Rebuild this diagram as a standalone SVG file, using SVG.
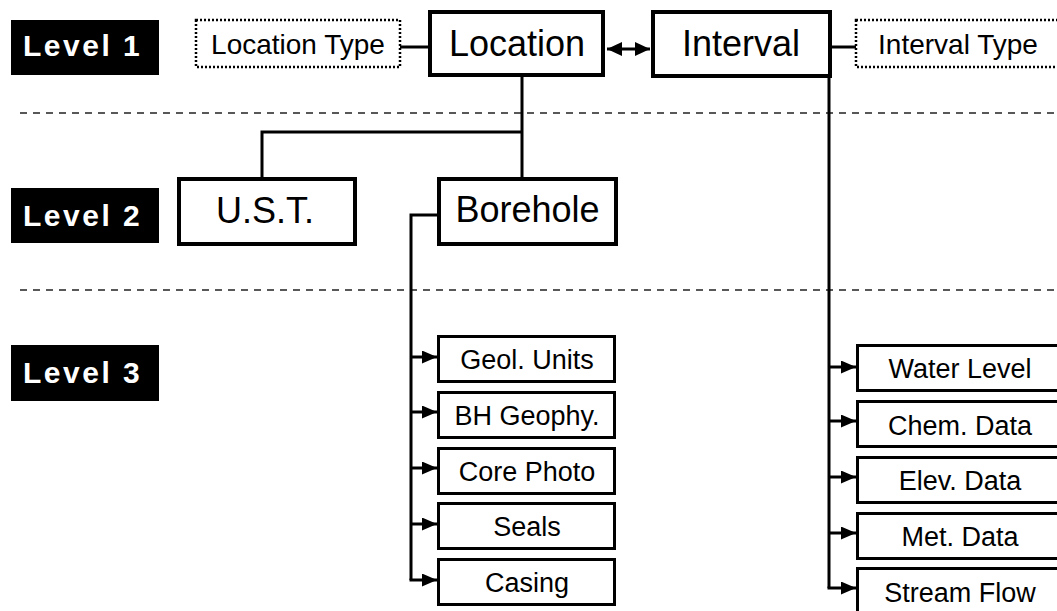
<svg xmlns="http://www.w3.org/2000/svg" width="1057" height="611" viewBox="0 0 1057 611">
<style>
  text { font-family: "Liberation Sans", Arial, sans-serif; fill: #000; }
  .lvl rect { fill: #000; }
  .lvl text { fill: #fff; font-weight: bold; font-size: 30px; letter-spacing: 2.5px; }
  .main rect { fill: #fff; stroke: #000; stroke-width: 4; }
  .main text { font-size: 36px; text-anchor: middle; }
  .type rect { fill: #fff; stroke: #000; stroke-width: 2.5; stroke-dasharray: 2 2; }
  .type text { font-size: 28px; text-anchor: middle; }
  .leaf rect { fill: #fff; stroke: #000; stroke-width: 3; }
  .leaf text { font-size: 27px; text-anchor: middle; }
  .sep { stroke: #222; stroke-width: 1.5; stroke-dasharray: 7 6; fill: none; }
  .conn { stroke: #000; stroke-width: 3; fill: none; }
</style>
<defs>
  <marker id="ah" markerUnits="userSpaceOnUse" markerWidth="15" markerHeight="14" refX="15" refY="7" orient="auto-start-reverse">
    <path d="M0,0 L15,7 L0,14 z" fill="#000"/>
  </marker>
  <marker id="ahs" markerUnits="userSpaceOnUse" markerWidth="15" markerHeight="13" refX="15" refY="6.5" orient="auto">
    <path d="M0,0 L15,6.5 L0,13 z" fill="#000"/>
  </marker>
</defs>
<rect width="1057" height="611" fill="#fff"/>

<g id="separators">
  <line class="sep" x1="20" y1="113" x2="1057" y2="113"/>
  <line class="sep" x1="20" y1="290" x2="1057" y2="290"/>
</g>

<g id="connectors">
  <line class="conn" x1="400" y1="47" x2="430" y2="47"/>
  <line class="conn" x1="830" y1="47" x2="856" y2="47"/>
  <line class="conn" x1="607" y1="49" x2="650" y2="49" marker-start="url(#ah)" marker-end="url(#ah)"/>
  <path class="conn" d="M522 77 V179 M523.5 132 H262 V179"/>
  <path class="conn" d="M439 215 H411 V580"/>
  <line class="conn" x1="410" y1="357" x2="437" y2="357" marker-end="url(#ahs)"/>
  <line class="conn" x1="410" y1="412" x2="437" y2="412" marker-end="url(#ahs)"/>
  <line class="conn" x1="410" y1="468" x2="437" y2="468" marker-end="url(#ahs)"/>
  <line class="conn" x1="410" y1="524" x2="437" y2="524" marker-end="url(#ahs)"/>
  <line class="conn" x1="409.5" y1="580" x2="437" y2="580" marker-end="url(#ahs)"/>
  <path class="conn" d="M829 78 V588"/>
  <line class="conn" x1="828" y1="367" x2="856" y2="367" marker-end="url(#ahs)"/>
  <line class="conn" x1="828" y1="421" x2="856" y2="421" marker-end="url(#ahs)"/>
  <line class="conn" x1="828" y1="477" x2="856" y2="477" marker-end="url(#ahs)"/>
  <line class="conn" x1="828" y1="533" x2="856" y2="533" marker-end="url(#ahs)"/>
  <line class="conn" x1="827.5" y1="588" x2="856" y2="588" marker-end="url(#ahs)"/>
</g>

<g id="level1" class="lvl"><rect x="11" y="20" width="148" height="55"/><text x="23" y="56">Level 1</text></g>
<g id="level2" class="lvl"><rect x="11" y="188" width="148" height="55"/><text x="23" y="226">Level 2</text></g>
<g id="level3" class="lvl"><rect x="11" y="345" width="148" height="56"/><text x="23" y="383">Level 3</text></g>

<g id="location-type" class="type"><rect x="196" y="20" width="204" height="47"/><text x="298" y="54">Location Type</text></g>
<g id="location" class="main"><rect x="430" y="12" width="173" height="63"/><text x="517" y="56">Location</text></g>
<g id="interval" class="main"><rect x="653" y="12" width="177" height="64"/><text x="741" y="56">Interval</text></g>
<g id="interval-type" class="type"><rect x="856" y="20" width="210" height="47"/><text x="958" y="54">Interval Type</text></g>

<g id="ust" class="main"><rect x="179" y="179" width="176" height="65"/><text x="265" y="223">U.S.T.</text></g>
<g id="borehole" class="main"><rect x="439" y="179" width="177" height="65"/><text x="527.5" y="222">Borehole</text></g>

<g id="geol-units" class="leaf"><rect x="438.5" y="336.5" width="176" height="45"/><text x="527" y="369">Geol. Units</text></g>
<g id="bh-geophy" class="leaf"><rect x="438.5" y="392.5" width="176" height="45"/><text x="527" y="425">BH Geophy.</text></g>
<g id="core-photo" class="leaf"><rect x="438.5" y="448.5" width="176" height="45"/><text x="527" y="481">Core Photo</text></g>
<g id="seals" class="leaf"><rect x="438.5" y="503.5" width="176" height="45"/><text x="527" y="536">Seals</text></g>
<g id="casing" class="leaf"><rect x="438.5" y="559.5" width="176" height="45"/><text x="527" y="592">Casing</text></g>

<g id="water-level" class="leaf"><rect x="857.5" y="345.5" width="210" height="45"/><text x="960" y="378">Water Level</text></g>
<g id="chem-data" class="leaf"><rect x="857.5" y="401.5" width="210" height="45"/><text x="960" y="435">Chem. Data</text></g>
<g id="elev-data" class="leaf"><rect x="857.5" y="457.5" width="210" height="45"/><text x="960" y="490">Elev. Data</text></g>
<g id="met-data" class="leaf"><rect x="857.5" y="513.5" width="210" height="45"/><text x="960" y="546">Met. Data</text></g>
<g id="stream-flow" class="leaf"><rect x="857.5" y="568.5" width="210" height="50"/><text x="960" y="602">Stream Flow</text></g>
</svg>
